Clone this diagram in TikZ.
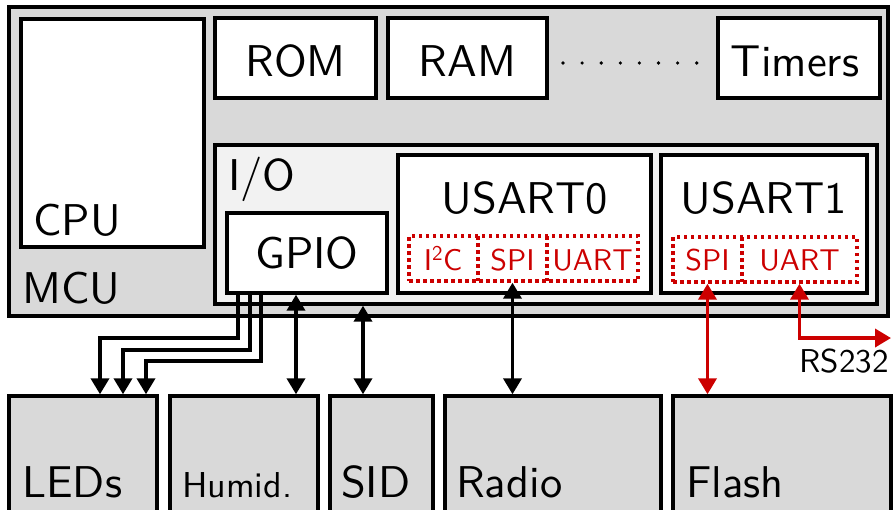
\documentclass[tikz,border=0pt]{standalone}
\usepackage{fontspec}
\setsansfont{Latin Modern Sans}[OpticalSize=10]
\usetikzlibrary{arrows.meta,fit,calc}
\definecolor{mcugray}{RGB}{217,217,217}
\definecolor{iogray}{RGB}{242,242,242}
\definecolor{sigred}{RGB}{204,0,0}
\begin{document}
\begin{tikzpicture}[x=1pt,y=-1pt,
  blk/.style={draw=black, line width=3.4pt, inner sep=0pt, fill=white},
  dev/.style={draw=black, line width=3.4pt, inner sep=0pt, fill=mcugray},
  lbl/.style={font=\fontsize{44.5}{52}\selectfont\sffamily, inner sep=0pt},
  smlbl/.style={font=\fontsize{36}{43}\selectfont\sffamily, inner sep=0pt},
  rlbl/.style={font=\fontsize{30}{36}\selectfont\sffamily, inner sep=0pt, text=sigred},
  dotbox/.style={draw=sigred, line width=3.4pt, dash pattern=on 3.5pt off 3.5pt, inner sep=0pt},
  dotline/.style={draw=sigred, line width=3.4pt, dash pattern=on 3.5pt off 3.5pt},
  cell/.style={inner sep=0pt, outer sep=1.7pt},
  conn/.style={draw=black, line width=3.7pt},
  redconn/.style={draw=sigred, line width=3.7pt},
  >={Triangle[width=18pt,length=16pt]}]
\useasboundingbox (0,0) rectangle (893,509);
\clip (0,0) rectangle (893,509);

% MCU
\node[blk, fill=mcugray, fit={(9,7) (888,316)}] (mcu) {};
\node[lbl, anchor=base west] (mculbl) at (22,303) {MCU};
% CPU
\node[blk, fit={(21,19) (204,247)}] (cpu) {};
\node[lbl, anchor=base west] (cpulbl) at (33,235) {CPU};
% ROM RAM Timers
\node[blk, fit={(215,18) (376,98)}] (rom) {};
\node[lbl, anchor=base] (romlbl) at (295.5,76) {ROM};
\node[blk, fit={(388,18) (547,98)}] (ram) {};
\node[lbl, anchor=base] (ramlbl) at (467.5,76) {RAM};
\node[blk, fit={(718,18) (880,98)}] (timers) {};
\node[lbl, anchor=base] (timlbl) at (795,76) {Timers};
\foreach \i in {0,...,7} \fill (563+19.1*\i,63) circle (1.8pt);

% I/O
\node[blk, fill=iogray, fit={(215,145) (877,304)}] (io) {};
\node[lbl, anchor=base west] (iolbl) at (228,190) {I/O};
% GPIO
\node[blk, fit={(227,213) (387,293)}] (gpio) {};
\node[lbl, anchor=base] (gpiolbl) at (307,268) {GPIO};
% USART0
\node[blk, fit={(398,155) (651,293)}] (usart0) {};
\node[lbl, anchor=base] (u0lbl) at (525,213) {USART0};
\node[dotbox, fit={(409,236) (638,281)}] (u0box) {};
\node[cell, fit={(409,236) (478,281)}] (i2c) {};
\node[cell, fit={(478,236) (547,281)}] (spi0) {};
\node[cell, fit={(547,236) (638,281)}] (uart0) {};
\draw[dotline] (478,236) -- (478,281);
\draw[dotline] (547,236) -- (547,281);
\node[rlbl, anchor=base] (i2clbl) at (443,270) {I\textsuperscript{2}C};
\node[rlbl, anchor=base] (spi0lbl) at (512.5,270) {SPI};
\node[rlbl, anchor=base] (uart0lbl) at (592.5,270) {UART};
% USART1
\node[blk, fit={(661,155) (867,293)}] (usart1) {};
\node[lbl, anchor=base] (u1lbl) at (764,213) {USART1};
\node[dotbox, fit={(673,237) (857,282)}] (u1box) {};
\node[cell, fit={(673,237) (742,282)}] (spi1) {};
\node[cell, fit={(742,237) (857,282)}] (uart1) {};
\draw[dotline] (742,237) -- (742,282);
\node[rlbl, anchor=base] (spi1lbl) at (707.5,270) {SPI};
\node[rlbl, anchor=base] (uart1lbl) at (799.5,270) {UART};

% devices
\node[dev, fit={(9,396) (157,530)}] (leds) {};
\node[lbl, anchor=base west] (ledslbl) at (22,497) {LEDs};
\node[dev, fit={(170,396) (318,530)}] (humid) {};
\node[smlbl, anchor=base west] (humidlbl) at (182,497) {Humid.};
\node[dev, fit={(330,396) (433,530)}] (sid) {};
\node[lbl, anchor=base west] (sidlbl) at (341,497) {SID};
\node[dev, fit={(445,396) (661,530)}] (radio) {};
\node[lbl, anchor=base west] (radiolbl) at (456,497) {Radio};
\node[dev, fit={(673,396) (891,530)}] (flash) {};
\node[lbl, anchor=base west] (flashlbl) at (686,497) {Flash};

% connectors
\draw[conn,->] ($(gpio.south)+(-69,0)$) -- ++(0,43) -| ($(leds.north)+(17,0)$);
\draw[conn,->] ($(gpio.south)+(-57,0)$) -- ++(0,55) -| ($(leds.north)+(40,0)$);
\draw[conn,->] ($(gpio.south)+(-46,0)$) -- ++(0,66) -| ($(leds.north)+(63,0)$);
\coordinate (h1) at ($(gpio.south)+(-11,0)$);
\draw[conn,<->] (h1) -- (h1 |- humid.north);
\coordinate (s1) at ($(io.south)+(-183,0)$);
\draw[conn,<->] (s1) -- (s1 |- sid.north);
\draw[conn,<->] (spi0.south) -- (spi0.south |- radio.north);
\draw[redconn,<->,sigred] (spi1.south) -- (spi1.south |- flash.north);
\coordinate (rsend) at (891,338);
\draw[redconn,<->,sigred] (uart1.south) |- (rsend);
\node[smlbl, font=\fontsize{33}{40}\selectfont\sffamily, anchor=base] (rslbl) at (844,372) {RS232};
\end{tikzpicture}
\end{document}
